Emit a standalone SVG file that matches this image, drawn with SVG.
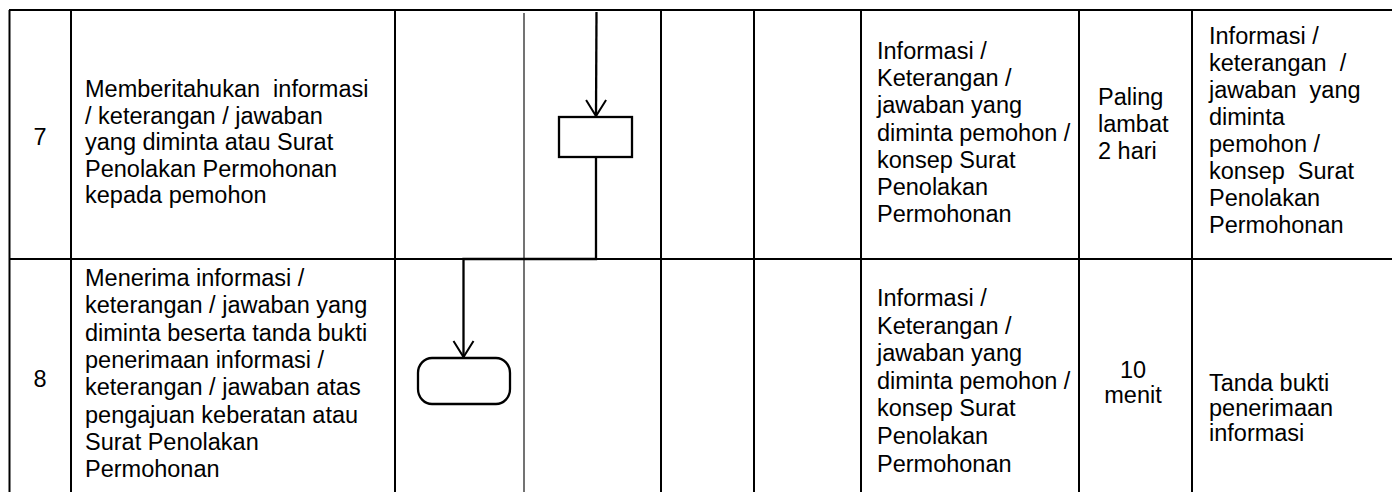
<svg xmlns="http://www.w3.org/2000/svg" width="1392" height="492" viewBox="0 0 1392 492">
<style>
.t{font-family:"Liberation Sans",Arial,sans-serif;font-size:23.5px;fill:#000;white-space:pre}
.c{text-anchor:middle}
.grid{stroke:#000;stroke-width:2;fill:none}
.lane{stroke:#444;stroke-width:1.5;fill:none}
.node{stroke:#000;stroke-width:2.3;fill:#fff}
.conn{stroke:#000;stroke-width:2.3;fill:none}
</style>
<defs>
<marker id="arr" viewBox="-18 -12 20 24" markerWidth="20" markerHeight="24" refX="0" refY="0" orient="auto" markerUnits="userSpaceOnUse">
<path d="M-16,-10 L0,0 L-16,10" fill="none" stroke="#000" stroke-width="2"/>
</marker>
</defs>
<rect width="1392" height="492" fill="#fff"/>
<g id="table">
<line class="grid" x1="9" y1="10" x2="1392" y2="10"/>
<line class="grid" x1="9" y1="259" x2="1392" y2="259"/>
<line class="grid" x1="9.5" y1="10" x2="9.5" y2="492"/>
<line class="grid" x1="71" y1="10" x2="71" y2="492"/>
<line class="grid" x1="395" y1="10" x2="395" y2="492"/>
<line class="grid" x1="661" y1="10" x2="661" y2="492"/>
<line class="grid" x1="754" y1="10" x2="754" y2="492"/>
<line class="grid" x1="861" y1="10" x2="861" y2="492"/>
<line class="grid" x1="1079" y1="10" x2="1079" y2="492"/>
<line class="grid" x1="1192" y1="10" x2="1192" y2="492"/>
<line class="lane" x1="524" y1="13" x2="524" y2="492"/>
</g>
<g id="row7">
<text class="t c" x="40" y="145">7</text>
<text class="t" x="85" y="97" xml:space="preserve"><tspan x="85">Memberitahukan  informasi</tspan><tspan x="85" dy="26.6">/ keterangan / jawaban</tspan><tspan x="85" dy="26.6">yang diminta atau Surat</tspan><tspan x="85" dy="26.6">Penolakan Permohonan</tspan><tspan x="85" dy="26.6">kepada pemohon</tspan></text>
<text class="t" x="877" y="59"><tspan x="877">Informasi /</tspan><tspan x="877" dy="27.2">Keterangan /</tspan><tspan x="877" dy="27.2">jawaban yang</tspan><tspan x="877" dy="27.2">diminta pemohon /</tspan><tspan x="877" dy="27.2">konsep Surat</tspan><tspan x="877" dy="27.2">Penolakan</tspan><tspan x="877" dy="27.2">Permohonan</tspan></text>
<text class="t" x="1098" y="105"><tspan x="1098">Paling</tspan><tspan x="1098" dy="26.8">lambat</tspan><tspan x="1098" dy="26.8">2 hari</tspan></text>
<text class="t" x="1209" y="44" xml:space="preserve"><tspan x="1209">Informasi /</tspan><tspan x="1209" dy="27">keterangan  /</tspan><tspan x="1209" dy="27">jawaban  yang</tspan><tspan x="1209" dy="27">diminta</tspan><tspan x="1209" dy="27">pemohon /</tspan><tspan x="1209" dy="27">konsep  Surat</tspan><tspan x="1209" dy="27">Penolakan</tspan><tspan x="1209" dy="27">Permohonan</tspan></text>
</g>
<g id="row8">
<text class="t c" x="40" y="387">8</text>
<text class="t" x="85" y="286"><tspan x="85">Menerima informasi /</tspan><tspan x="85" dy="27.3">keterangan / jawaban yang</tspan><tspan x="85" dy="27.3">diminta beserta tanda bukti</tspan><tspan x="85" dy="27.3">penerimaan informasi /</tspan><tspan x="85" dy="27.3">keterangan / jawaban atas</tspan><tspan x="85" dy="27.3">pengajuan keberatan atau</tspan><tspan x="85" dy="27.3">Surat Penolakan</tspan><tspan x="85" dy="27.3">Permohonan</tspan></text>
<text class="t" x="877" y="306"><tspan x="877">Informasi /</tspan><tspan x="877" dy="27.6">Keterangan /</tspan><tspan x="877" dy="27.6">jawaban yang</tspan><tspan x="877" dy="27.6">diminta pemohon /</tspan><tspan x="877" dy="27.6">konsep Surat</tspan><tspan x="877" dy="27.6">Penolakan</tspan><tspan x="877" dy="27.6">Permohonan</tspan></text>
<text class="t c" x="1133" y="378"><tspan x="1133">10</tspan><tspan x="1133" dy="25">menit</tspan></text>
<text class="t" x="1209" y="391"><tspan x="1209">Tanda bukti</tspan><tspan x="1209" dy="25">penerimaan</tspan><tspan x="1209" dy="25">informasi</tspan></text>
</g>
<g id="node-process">
<rect class="node" x="559" y="117" width="73" height="40"/>
</g>
<g id="node-terminal">
<rect class="node" x="418" y="358" width="92" height="46" rx="14" ry="15"/>
</g>
<g id="connectors">
<path class="conn" d="M596.5,12 L596,116" marker-end="url(#arr)"/>
<path class="conn" d="M596,157 L596,259 L463.5,259 L463.5,357" marker-end="url(#arr)"/>
</g>
</svg>
